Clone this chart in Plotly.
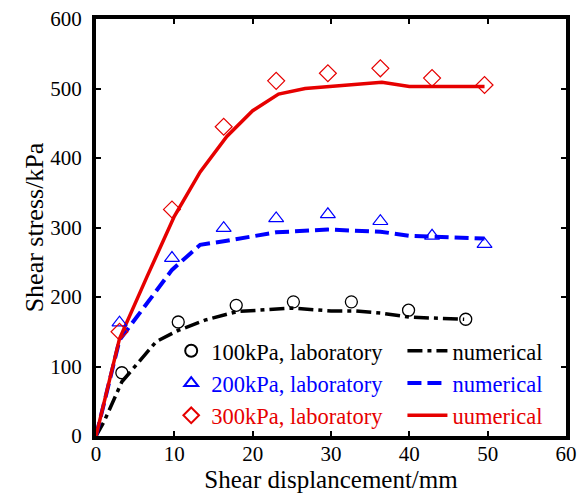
import plotly.graph_objects as go

# Laboratory data
x_lab_100 = [3.3, 10.5, 17.9, 25.2, 32.6, 39.9, 47.2]
y_lab_100 = [91, 164, 188, 193, 193, 181, 168]
x_lab_200 = [3.0, 9.7, 16.3, 23.0, 29.6, 36.3, 42.9, 49.6]
y_lab_200 = [163, 256, 299, 313, 319, 309, 288, 276]
x_lab_300 = [3.0, 9.7, 16.3, 23.0, 29.6, 36.3, 42.9, 49.6]
y_lab_300 = [150, 326, 445, 511, 522, 529, 515, 505]

# Numerical data
x_num_100 = [0, 1, 3.3, 6, 7.7, 10.5, 14, 18, 25, 30, 33, 36.3, 40, 47]
y_num_100 = [0, 20, 78, 114, 136, 152, 167, 179, 184, 180, 180, 177, 171, 168]
x_num_200 = [0, 3, 9.7, 13.3, 16.7, 23, 29.6, 36.3, 40, 43, 49.6]
y_num_200 = [0, 138, 239, 275, 281, 293, 297, 294, 288, 287, 284]
x_num_300 = [0, 3, 6.5, 10, 13.3, 16.7, 20, 23.3, 26.7, 30, 36.5, 40, 43.3, 49.6]
y_num_300 = [0, 140, 229, 316, 380, 431, 468, 492, 500, 503, 509, 503, 503, 503]

x_ticks = [0, 10, 20, 30, 40, 50, 60]
y_ticks = [0, 100, 200, 300, 400, 500, 600]

BLACK = "#000000"
BLUE = "#0000ff"
RED = "#e60000"
FONT = "Times New Roman, Liberation Serif, serif"

fig = go.Figure()

# numerical lines (legend2)
fig.add_trace(go.Scatter(x=x_num_100, y=y_num_100, mode="lines",
                         line=dict(color=BLACK, width=3.5, dash="15px,5px,4px,5px"),
                         name=f"<span style='color:{BLACK}'>numerical</span>", legend="legend2"))
fig.add_trace(go.Scatter(x=x_num_200, y=y_num_200, mode="lines",
                         line=dict(color=BLUE, width=4, dash="14px,6px"),
                         name=f"<span style='color:{BLUE}'>numerical</span>", legend="legend2"))
fig.add_trace(go.Scatter(x=x_num_300, y=y_num_300, mode="lines",
                         line=dict(color=RED, width=3.5),
                         name=f"<span style='color:{RED}'>uumerical</span>", legend="legend2"))

# laboratory markers (legend)
fig.add_trace(go.Scatter(x=x_lab_100, y=y_lab_100, mode="markers",
                         marker=dict(symbol="circle-open", size=12, color=BLACK, line=dict(width=1.3)),
                         name=f"<span style='color:{BLACK}'>100kPa, laboratory</span>", legend="legend"))
fig.add_trace(go.Scatter(x=x_lab_200, y=y_lab_200, mode="markers",
                         marker=dict(symbol="triangle-up-open", size=13, color=BLUE, line=dict(width=1.2)),
                         name=f"<span style='color:{BLUE}'>200kPa, laboratory</span>", legend="legend"))
fig.add_trace(go.Scatter(x=x_lab_300, y=y_lab_300, mode="markers",
                         marker=dict(symbol="diamond-open", size=13, color=RED, line=dict(width=1.2)),
                         name=f"<span style='color:{RED}'>300kPa, laboratory</span>", legend="legend"))

axis_common = dict(showline=True, linewidth=4, linecolor=BLACK, mirror="ticks",
                   ticks="inside", ticklen=5, tickwidth=2, tickcolor=BLACK,
                   showgrid=False, zeroline=False, automargin=False,
                   tickfont=dict(family=FONT, size=21, color=BLACK))

fig.update_layout(
    width=587, height=494,
    margin=dict(l=96, r=21, t=19, b=58),
    paper_bgcolor="white", plot_bgcolor="white",
    font=dict(family=FONT, size=23, color=BLACK),
    xaxis=dict(range=[0, 60], tickvals=x_ticks, ticktext=[str(v) for v in x_ticks],
               ticklabelstandoff=-4,
               title=dict(text="Shear displancement/mm", font=dict(family=FONT, size=25), standoff=0),
               **axis_common),
    yaxis=dict(range=[0, 600], tickvals=y_ticks, ticktext=[str(v) for v in y_ticks],
               ticklabelstandoff=6,
               title=dict(text="Shear stress/kPa", font=dict(family=FONT, size=26), standoff=0),
               **axis_common),
    legend=dict(x=0.16, y=0.255, xanchor="left", yanchor="top", bgcolor="rgba(0,0,0,0)",
                font=dict(family=FONT, size=22.5), itemwidth=30, tracegroupgap=0,
                traceorder="normal", itemsizing="constant"),
    legend2=dict(x=0.652, y=0.255, xanchor="left", yanchor="top", bgcolor="rgba(0,0,0,0)",
                 font=dict(family=FONT, size=22.5), itemwidth=40, tracegroupgap=0, traceorder="normal"),
    showlegend=True,
)

fig.write_html("out.html")
